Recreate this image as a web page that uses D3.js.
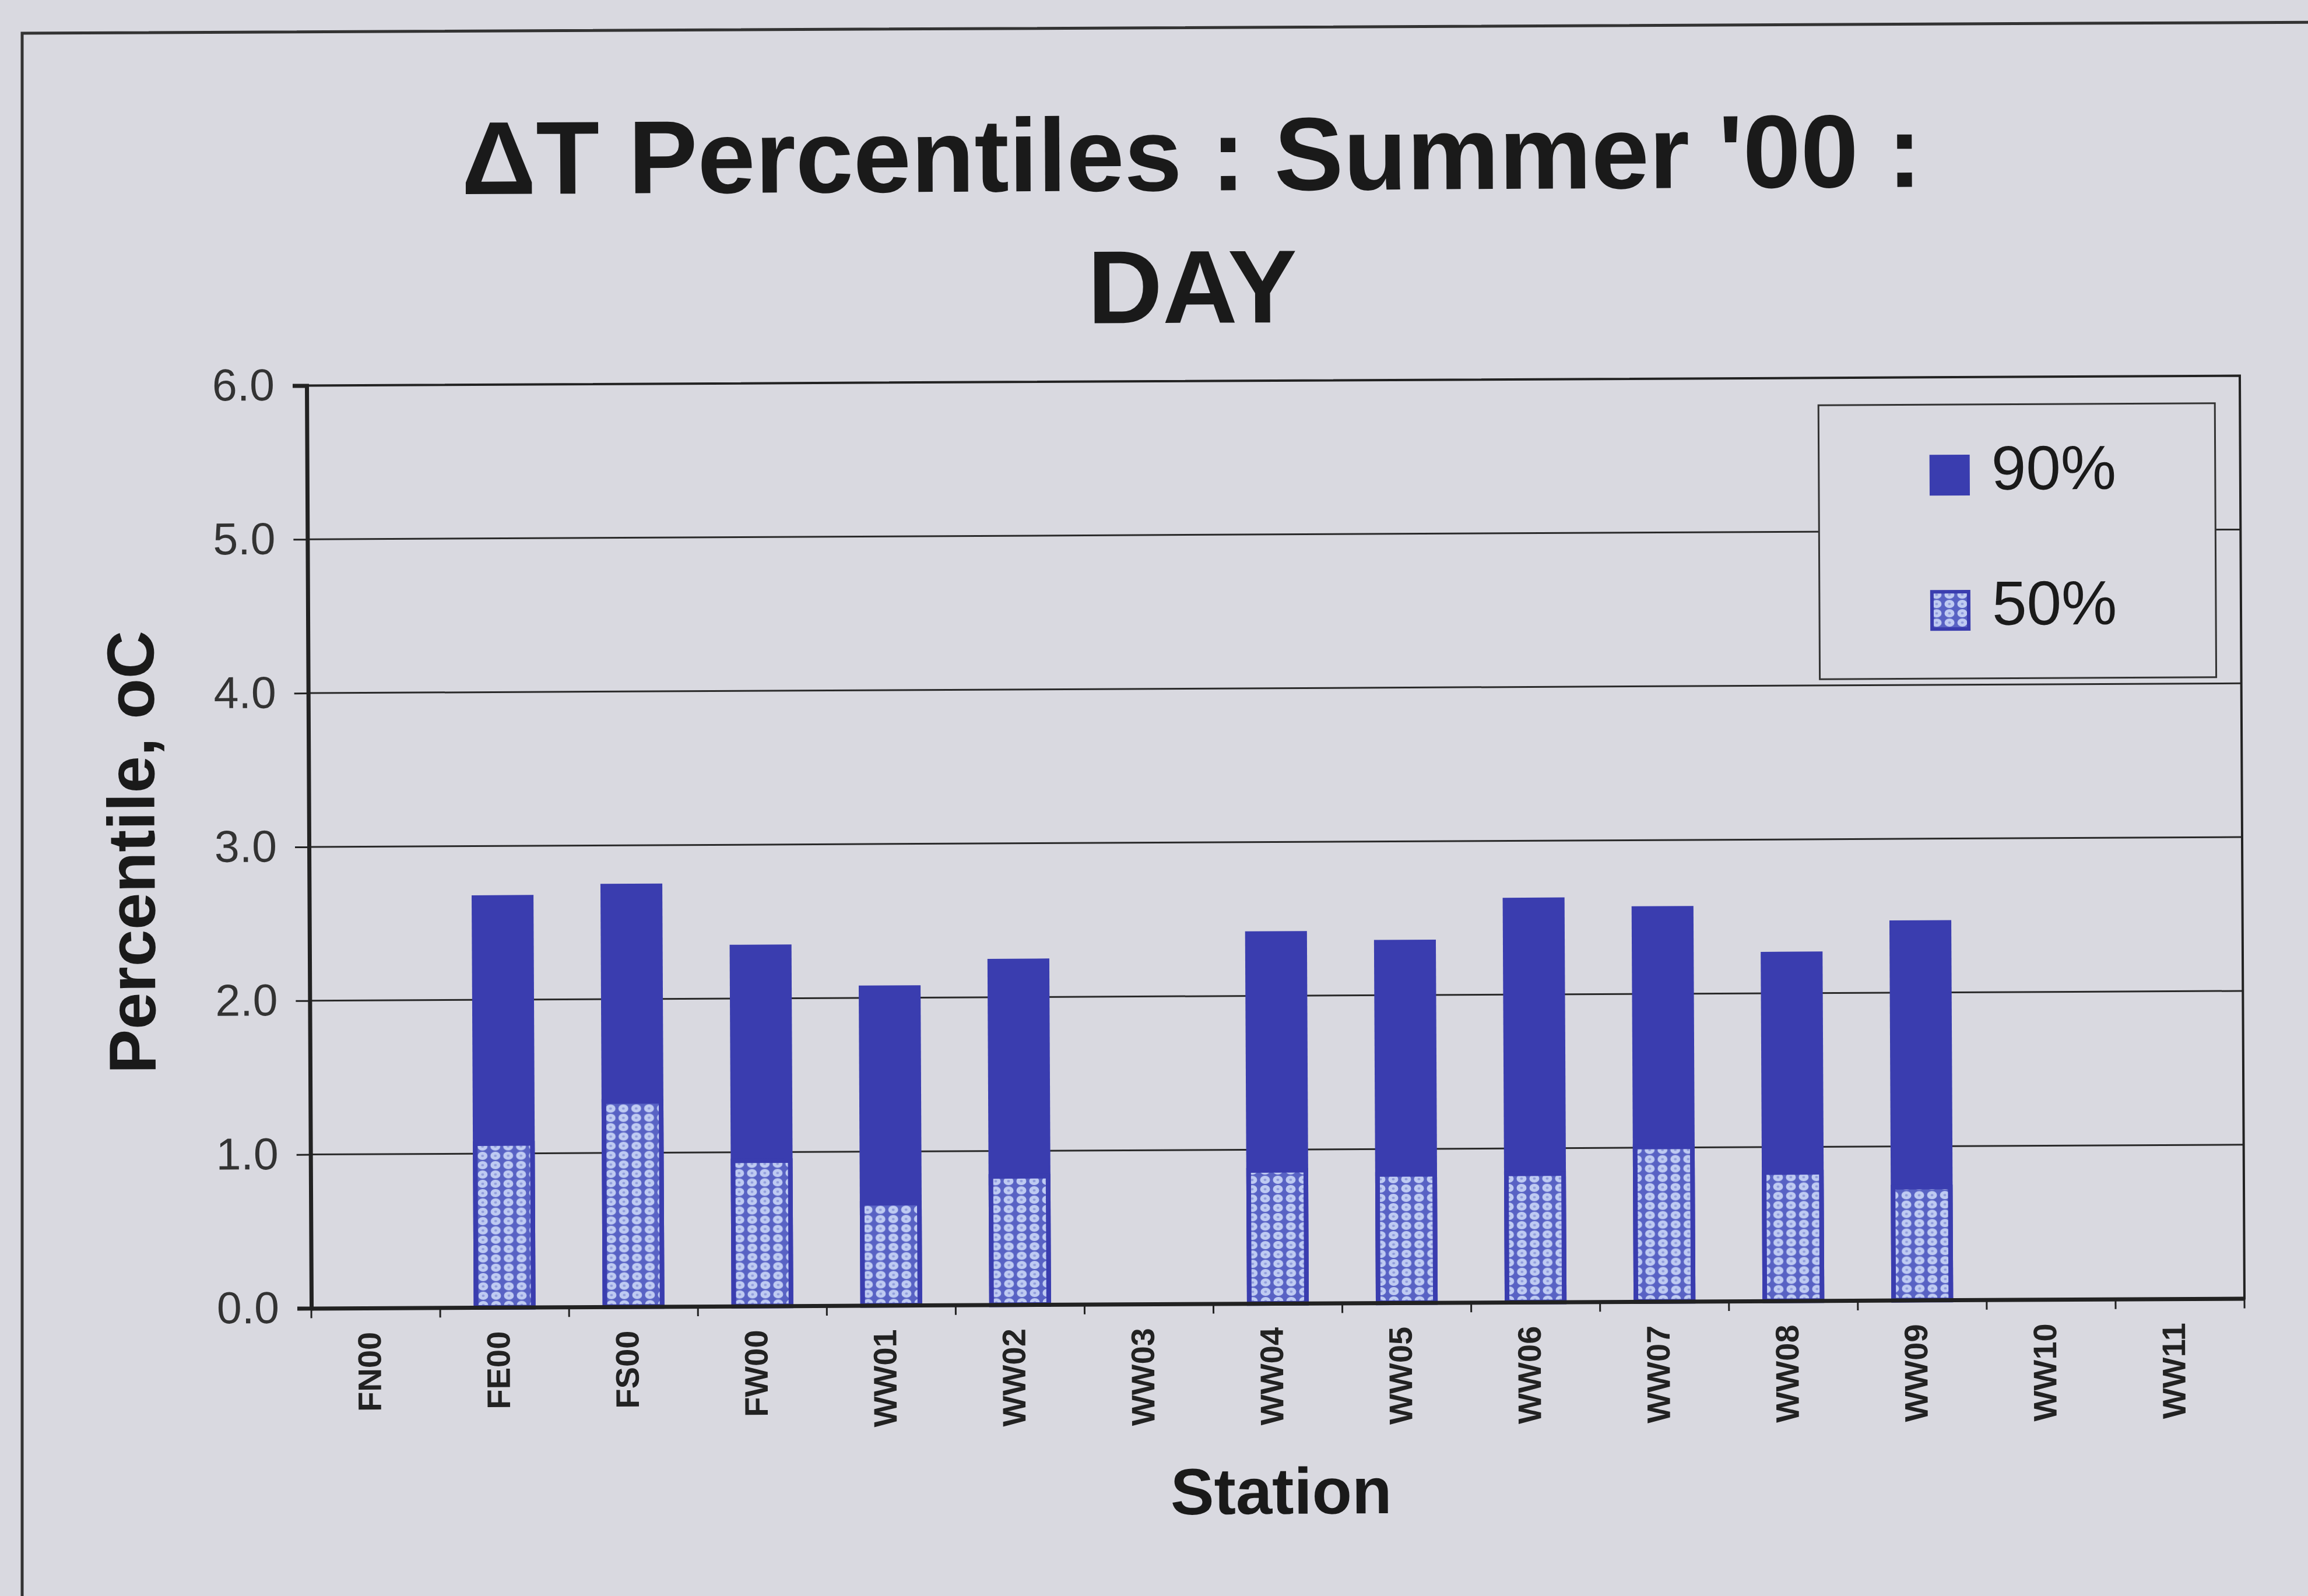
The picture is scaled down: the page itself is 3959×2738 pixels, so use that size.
<!DOCTYPE html>
<html>
<head>
<meta charset="utf-8">
<script src="https://cdn.jsdelivr.net/npm/d3@7"></script>
<style>
  html, body { margin: 0; padding: 0; background: #d9d9e0; }
  svg { display: block; }
  text { font-family: "Liberation Sans", Arial, sans-serif; }
</style>
</head>
<body>
<svg id="chart" width="3959" height="2738"></svg>
<script>
// Stations along the x axis
const stations = ["FN00", "FE00", "FS00", "FW00", "WW01", "WW02", "WW03",
                  "WW04", "WW05", "WW06", "WW07", "WW08", "WW09", "WW10", "WW11"];
// 90th percentile of ΔT (°C); null = no data for that station
const p90 = [null, 2.68, 2.75, 2.35, 2.08, 2.25, null, 2.42, 2.36, 2.63, 2.57, 2.27, 2.47, null, null];
// 50th percentile of ΔT (°C)
const p50 = [null, 1.08, 1.35, 0.96, 0.68, 0.85, null, 0.88, 0.85, 0.85, 1.02, 0.85, 0.75, null, null];
// Value axis ticks
const yTicks = [0, 1, 2, 3, 4, 5, 6];
const seriesNames = ["90%", "50%"];
const titleLines = ["\u0394T Percentiles : Summer '00 :", "DAY"];

const W = 3959, H = 2738;
const plot = { left: 530, right: 3846, top: 653, bottom: 2236 };
const darkBlue = "#3a3daf";
const ink = "#222";

const svg = d3.select("#chart");

// page background
svg.append("rect").attr("width", W).attr("height", H).attr("fill", "#d9d9e0");

// stipple used for the 50% series
const defs = svg.append("defs");
const pat = defs.append("pattern")
  .attr("id", "p50fill").attr("patternUnits", "userSpaceOnUse")
  .attr("width", 22).attr("height", 16);
pat.append("rect").attr("width", 22).attr("height", 16).attr("fill", "#5862c4");
pat.append("ellipse").attr("cx", 11).attr("cy", 8).attr("rx", 8.5).attr("ry", 7)
  .attr("fill", "#bfcbf2");
pat.append("ellipse").attr("cx", 11).attr("cy", 8).attr("rx", 2.5).attr("ry", 2)
  .attr("fill", "#8f9bdc");

// outer chart frame (top and left edges)
svg.append("path")
  .attr("d", `M38,${H + 20} L38,57 L${W + 40},38`)
  .attr("fill", "none").attr("stroke", "#333").attr("stroke-width", 5);

// the chart sheet sits very slightly tilted
const g = svg.append("g").attr("transform", "rotate(-0.29, 2188, 1445)");

// title
g.append("g").selectAll("text").data(titleLines).join("text")
  .attr("x", 2050).attr("y", (d, i) => 326 + i * 227)
  .attr("text-anchor", "middle")
  .attr("font-size", 178).attr("font-weight", "bold").attr("fill", "#1a1a1a")
  .text(d => d);

// scales
const x = d3.scaleBand().domain(stations)
  .range([plot.left, plot.right]).paddingInner(0.52).paddingOuter(0.26);
const y = d3.scaleLinear().domain([0, 6]).range([plot.bottom, plot.top]);

// horizontal gridlines
g.append("g").selectAll("line").data(yTicks.filter(t => t > 0 && t < 6)).join("line")
  .attr("x1", plot.left).attr("x2", plot.right)
  .attr("y1", d => y(d)).attr("y2", d => y(d))
  .attr("stroke", "#2a2a2a").attr("stroke-width", 3);

// plot area border
g.append("rect")
  .attr("x", plot.left).attr("y", plot.top)
  .attr("width", plot.right - plot.left).attr("height", plot.bottom - plot.top)
  .attr("fill", "none").attr("stroke", ink).attr("stroke-width", 4);

// bars: 90% behind, 50% in front (overlapping columns)
const rows = stations.map((s, i) => ({ s, p90: p90[i], p50: p50[i] }));
const bars = g.append("g");
bars.selectAll("rect.p90").data(rows.filter(d => d.p90 != null)).join("rect")
  .attr("class", "p90")
  .attr("x", d => x(d.s)).attr("width", x.bandwidth())
  .attr("y", d => y(d.p90)).attr("height", d => y(0) - y(d.p90))
  .attr("fill", darkBlue);
const inset = 4;
bars.selectAll("rect.p50").data(rows.filter(d => d.p50 != null)).join("rect")
  .attr("class", "p50")
  .attr("x", d => x(d.s) + inset).attr("width", x.bandwidth() - 2 * inset)
  .attr("y", d => y(d.p50) + inset).attr("height", d => y(0) - y(d.p50) - inset)
  .attr("fill", "url(#p50fill)")
  .attr("stroke", darkBlue).attr("stroke-width", 2 * inset);

// y axis
const yAxis = g.append("g").attr("transform", `translate(${plot.left},0)`)
  .call(d3.axisLeft(y).tickValues(yTicks).tickFormat(d3.format(".1f"))
    .tickSize(24).tickPadding(31));
yAxis.select(".domain").attr("stroke", ink).attr("stroke-width", 7);
yAxis.selectAll(".tick line").attr("stroke", ink).attr("stroke-width", 3);
yAxis.selectAll(".tick text")
  .attr("font-size", 77).attr("fill", "#333")
  .attr("font-family", "'Liberation Sans', Arial, sans-serif");

// x axis: labels at band centres, ticks on band boundaries
const xAxis = g.append("g").attr("transform", `translate(0,${plot.bottom})`)
  .call(d3.axisBottom(x).tickSize(0).tickPadding(0));
xAxis.select(".domain").attr("stroke", ink).attr("stroke-width", 7);
xAxis.selectAll(".tick text")
  .attr("transform", "rotate(-90)")
  .attr("text-anchor", "end")
  .attr("x", -41).attr("y", 0).attr("dy", "0.15em")
  .attr("font-size", 56).attr("font-weight", "bold").attr("fill", "#222")
  .attr("font-family", "'Liberation Sans', Arial, sans-serif");
const gap = (x.step() - x.bandwidth()) / 2;
const bounds = stations.map(s => x(s) - gap).concat([x(stations[stations.length - 1]) + x.bandwidth() + gap]);
g.append("g").selectAll("line").data(bounds).join("line")
  .attr("x1", d => d).attr("x2", d => d)
  .attr("y1", plot.bottom).attr("y2", plot.bottom + 17)
  .attr("stroke", ink).attr("stroke-width", 3);

// axis titles
g.append("text")
  .attr("transform", "translate(265,1452) rotate(-90)")
  .attr("text-anchor", "middle")
  .attr("font-size", 114).attr("font-weight", "bold").attr("fill", "#1a1a1a")
  .text("Percentile, oC");
g.append("text")
  .attr("x", 2192).attr("y", 2597)
  .attr("text-anchor", "middle")
  .attr("font-size", 112).attr("font-weight", "bold").attr("fill", "#1a1a1a")
  .text("Station");

// legend
const legend = g.append("g");
legend.append("rect")
  .attr("x", 3123).attr("y", 700).attr("width", 680).attr("height", 470)
  .attr("fill", "#d9d9e0").attr("stroke", "#333").attr("stroke-width", 3);
const legendFill = { "90%": darkBlue, "50%": "url(#p50fill)" };
const li = legend.selectAll("g.item").data(seriesNames).join("g")
  .attr("class", "item")
  .attr("transform", (d, i) => `translate(3313,${786 + i * 232})`);
li.append("rect")
  .attr("x", 3).attr("y", 3).attr("width", 63).attr("height", 64)
  .attr("fill", d => legendFill[d])
  .attr("stroke", darkBlue).attr("stroke-width", 6);
li.append("text")
  .attr("x", 106).attr("y", 60)
  .attr("font-size", 107).attr("fill", "#1a1a1a")
  .text(d => d);
</script>
</body>
</html>
